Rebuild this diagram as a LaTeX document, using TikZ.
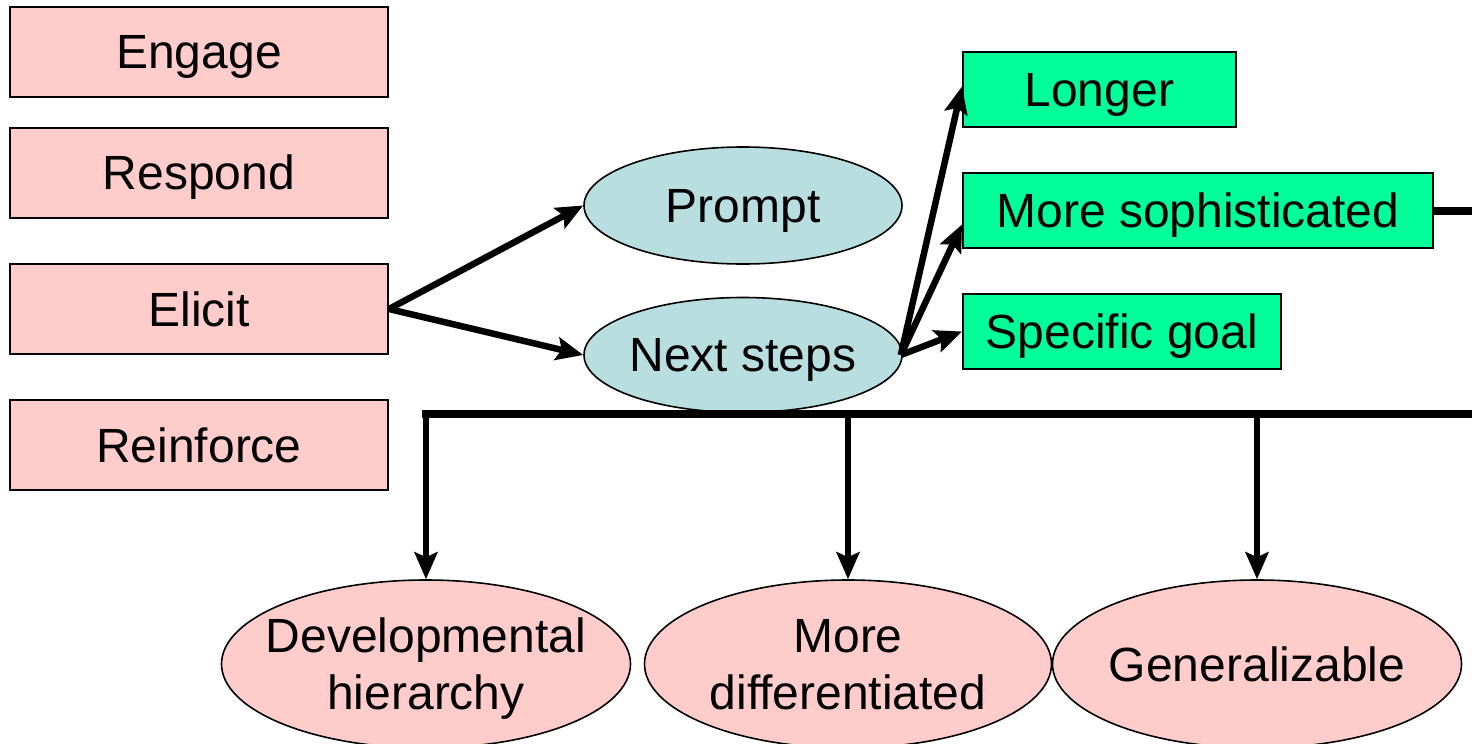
\documentclass[tikz,border=0pt]{standalone}
\usepackage{fontspec}
\setmainfont{Liberation Sans}
\usetikzlibrary{shapes.geometric,arrows.meta}
\definecolor{stagepink}{HTML}{FFCCCC}
\definecolor{stepblue}{HTML}{B9DEE0}
\definecolor{goalgreen}{HTML}{00FF99}
\begin{document}
\begin{tikzpicture}[x=1pt,y=-1pt,
  txt/.style={font=\fontsize{48}{57}\selectfont, text depth=0pt},
  stagebox/.style={draw, line width=2pt, fill=stagepink, minimum width=378pt,
    minimum height=90pt, inner sep=0pt, txt},
  goalbox/.style={draw, line width=1.6pt, fill=goalgreen, minimum height=75pt,
    inner sep=0pt, anchor=west, txt},
  oval/.style={ellipse, draw, line width=1.6pt, inner sep=0pt},
  conn/.style={line width=6.5pt, -{Stealth[length=27pt,width=23pt,inset=5pt]}},
  bus/.style={line width=8pt}]
\useasboundingbox (0,0) rectangle (1472,744);

% stage boxes on the left
\node[stagebox] (engage)    at (199,52)    {Engage};
\node[stagebox] (respond)   at (199,172.5) {Respond};
\node[stagebox] (elicit)    at (199,309)   {Elicit};
\node[stagebox] (reinforce) at (199,445)   {Reinforce};

% follow-up ovals
\node[oval, fill=stepblue, minimum width=318pt, minimum height=117pt,
  label={[txt]center:Prompt}] (prompt) at (743,205.5) {};
\node[oval, fill=stepblue, minimum width=318pt, minimum height=115pt,
  label={[txt]center:Next steps}] (next) at (743,355) {};

% goal boxes
\node[goalbox, minimum width=273pt] (longer) at (962,89.5)  {Longer};
\node[goalbox, minimum width=470pt] (soph)   at (962,210.5) {More sophisticated};
\node[goalbox, minimum width=318pt] (goal)   at (962,331.5) {Specific goal};

% outcome ovals at the bottom
\node[oval, fill=stagepink, minimum width=409pt, minimum height=168pt,
  label={[txt, align=center]center:Developmental\\hierarchy}] (dev) at (426,664) {};
\node[oval, fill=stagepink, minimum width=407pt, minimum height=168pt,
  label={[txt, align=center]center:More\\differentiated}] (diff) at (848,664) {};
\node[oval, fill=stagepink, minimum width=409pt, minimum height=168pt,
  label={[txt]center:Generalizable}] (gen) at (1257,664) {};

% connectors
\draw[conn] (elicit.east) -- (prompt.west);
\draw[conn] (elicit.east) -- (next.west);
\draw[conn] ([xshift=-2pt]next.east) -- ([yshift=3pt]longer.west);
\draw[conn] ([xshift=-2pt]next.east) -- ([yshift=-14pt]soph.west);
\draw[conn] ([xshift=-2pt]next.east) -- (goal.west);

\coordinate (sophR) at (1472,210.5);
\draw[bus] (soph.east) -- (sophR);

\coordinate (busL) at (422,414);
\coordinate (busR) at (1472,414);
\draw[bus] (busL) -- (busR);
\draw[conn] (dev.north |- busL)  -- (dev.north);
\draw[conn] (diff.north |- busL) -- (diff.north);
\draw[conn] (gen.north |- busL)  -- (gen.north);
\end{tikzpicture}
\end{document}
